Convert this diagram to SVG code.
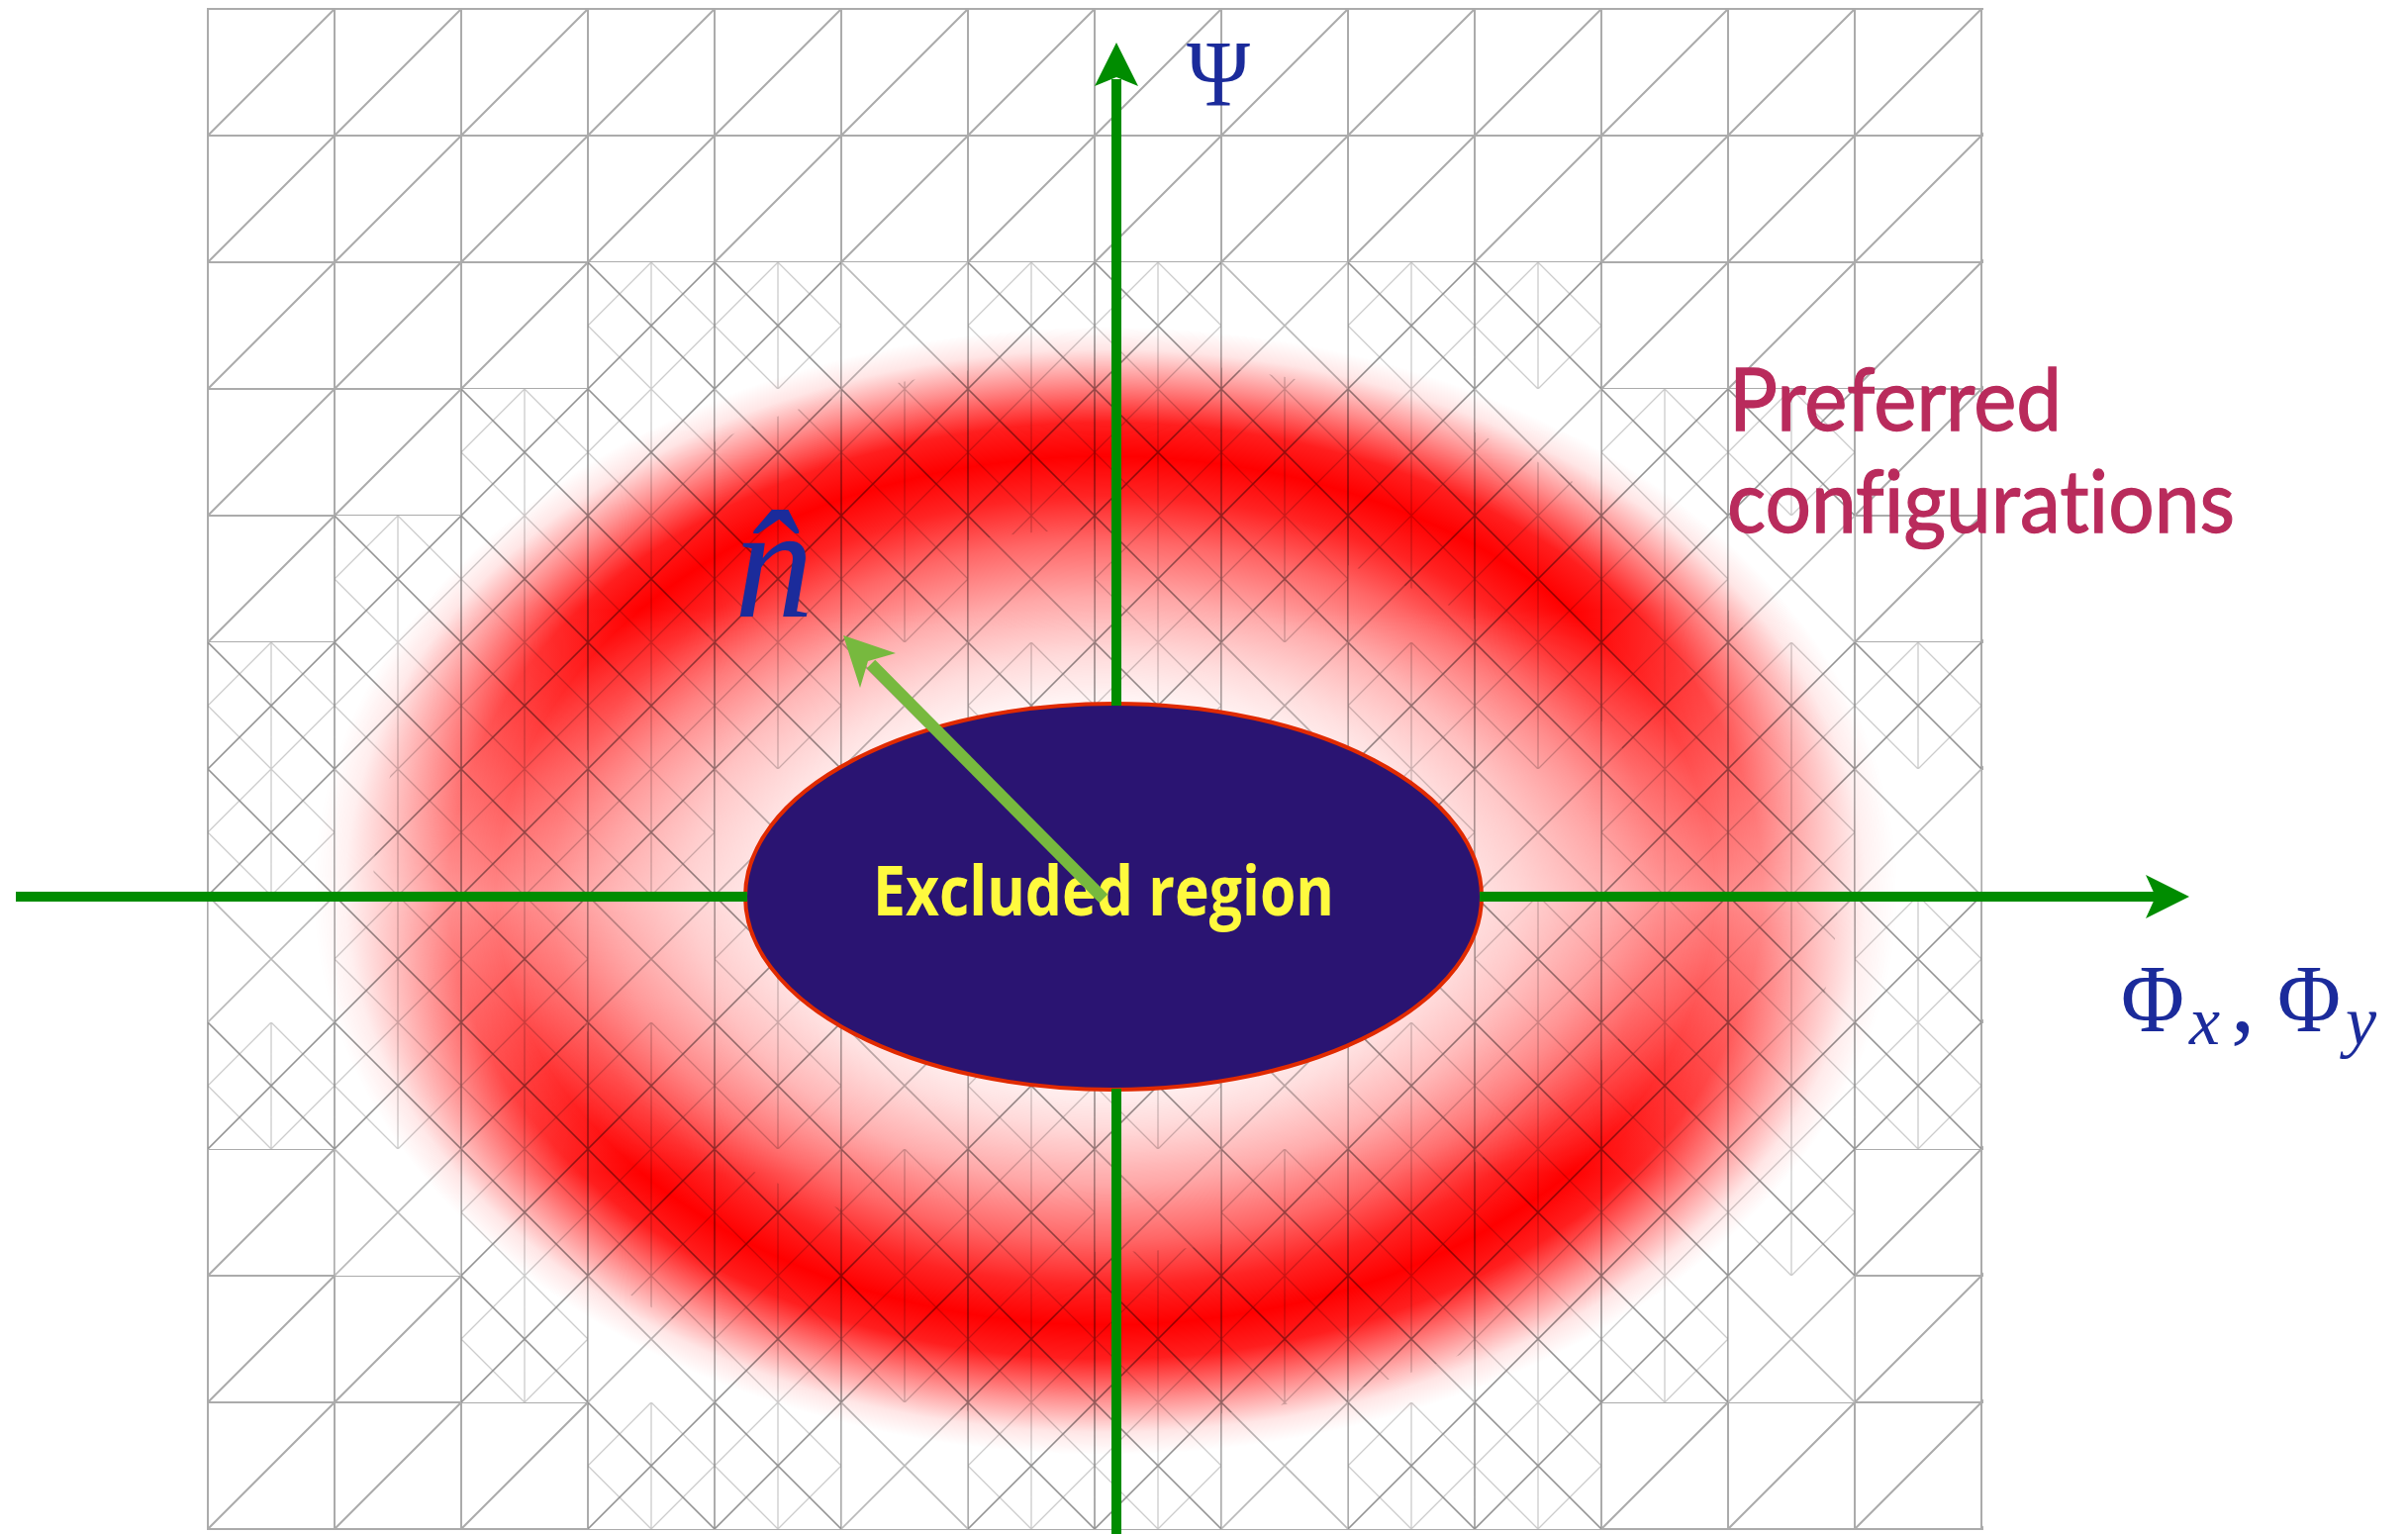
<svg xmlns="http://www.w3.org/2000/svg" width="2433" height="1550" viewBox="0 0 2433 1550">
<defs>
<style>
.math{font-family:"Liberation Serif","DejaVu Serif",serif;fill:#1b2b9b}
.mi{font-style:italic}
.pref{font-family:Lato,"Open Sans",sans-serif;fill:#b92b5c;stroke:#b92b5c;stroke-width:1.3px;font-size:88px;font-variant-ligatures:none}
.excl{font-family:"Open Sans","Noto Sans",sans-serif;font-weight:700;fill:#fffa3e;font-size:69px}
.axis{stroke:#008c00;stroke-width:10;fill:none}
.axhead{fill:#008c00}
.narrow{stroke:#77b93e;stroke-width:12;fill:none}
.nhead{fill:#77b93e}
</style>
<pattern id="p0" x="210" y="9" width="128" height="128" patternUnits="userSpaceOnUse">
<path d="M0,0H128M0,128H128M0,0V128M128,0V128M0,128L128,0" stroke="#000" stroke-opacity="0.33" stroke-width="2" fill="none"/>
</pattern>
<pattern id="pA" x="210" y="9" width="128" height="128" patternUnits="userSpaceOnUse">
<path d="M0,0V128M128,0V128M0,0L128,128M128,0L0,128" stroke="#000" stroke-opacity="0.27" stroke-width="1.6" fill="none"/>
</pattern>
<pattern id="pB" x="210" y="9" width="64" height="64" patternUnits="userSpaceOnUse">
<path d="M0,0V64M64,0V64M0,0L64,64M64,0L0,64" stroke="#000" stroke-opacity="0.2" stroke-width="1.3" fill="none"/>
</pattern>
<pattern id="checker" x="210" y="9" width="384" height="384" patternUnits="userSpaceOnUse">
<path fill="#fff" d="M0,0h128v128h-128z M256,0h128v128h-128z M128,128h256v128h-256z M0,256h256v128h-256z"/>
</pattern>
<mask id="mCoarse" maskUnits="userSpaceOnUse" x="0" y="0" width="2433" height="1550">
<rect width="2433" height="1550" fill="#fff"/>
<path d="M594,265H1618V393H1874V649H2002V1161H1874V1417H1618V1545H594V1417H466V1289H338V1161H210V649H338V521H466V393H594Z" fill="#000"/>
</mask>
<clipPath id="cFine">
<path d="M594,265H1618V393H1874V649H2002V1161H1874V1417H1618V1545H594V1417H466V1289H338V1161H210V649H338V521H466V393H594Z"/>
</clipPath>
<mask id="mFine" maskUnits="userSpaceOnUse" x="0" y="0" width="2433" height="1550">
<rect x="209" y="8" width="1795" height="1538" fill="url(#checker)"/>
<ellipse cx="1117" cy="900" rx="655" ry="450" fill="none" stroke="#fff" stroke-width="170"/>
</mask>
<radialGradient id="ringGrad">
<stop offset="0" stop-color="#ff0000" stop-opacity="0"/>
<stop offset="0.3" stop-color="#ff0000" stop-opacity="0"/>
<stop offset="0.42" stop-color="#ff0000" stop-opacity="0.16"/>
<stop offset="0.52" stop-color="#ff0000" stop-opacity="0.34"/>
<stop offset="0.62" stop-color="#ff0000" stop-opacity="0.6"/>
<stop offset="0.7" stop-color="#ff0000" stop-opacity="0.86"/>
<stop offset="0.77" stop-color="#ff0000" stop-opacity="1"/>
<stop offset="0.83" stop-color="#ff0000" stop-opacity="0.88"/>
<stop offset="0.9" stop-color="#ff0000" stop-opacity="0.45"/>
<stop offset="0.96" stop-color="#ff0000" stop-opacity="0.1"/>
<stop offset="1" stop-color="#ff0000" stop-opacity="0"/>
</radialGradient>
<linearGradient id="ringFade" gradientUnits="userSpaceOnUse" x1="0" y1="330" x2="0" y2="1470">
<stop offset="0" stop-color="#fff"/>
<stop offset="0.25" stop-color="#fff"/>
<stop offset="0.4" stop-color="#aaa"/>
<stop offset="0.5" stop-color="#7a7a7a"/>
<stop offset="0.6" stop-color="#aaa"/>
<stop offset="0.75" stop-color="#fff"/>
<stop offset="1" stop-color="#fff"/>
</linearGradient>
<mask id="mRing" maskUnits="userSpaceOnUse" x="0" y="0" width="2433" height="1550">
<rect width="2433" height="1550" fill="url(#ringFade)"/>
</mask>
</defs>

<rect width="2433" height="1550" fill="#fff"/>

<g id="ring">
<ellipse cx="1117" cy="900" rx="800" ry="570" fill="url(#ringGrad)" mask="url(#mRing)"/>
</g>

<g id="mesh">
<rect x="209" y="8" width="1795" height="1538" fill="url(#p0)" mask="url(#mCoarse)"/>
<g clip-path="url(#cFine)">
<rect x="209" y="8" width="1795" height="1538" fill="url(#pA)"/>
<rect x="209" y="8" width="1795" height="1538" fill="url(#pB)" mask="url(#mFine)"/>
</g>
</g>

<g id="excluded-region">
<ellipse cx="1125" cy="906" rx="372" ry="195" fill="#2a1472" stroke="#e02a00" stroke-width="4"/>
<text class="excl" x="882" y="925" textLength="466" lengthAdjust="spacingAndGlyphs">Excluded region</text>
</g>

<g id="connectors">
<line class="axis" x1="16" y1="906" x2="755" y2="906"/>
<line class="axis" x1="1495" y1="906" x2="2180" y2="906"/>
<polygon class="axhead" points="2212,906 2168,884 2178,906 2168,928"/>
<line class="axis" x1="1128" y1="1550" x2="1128" y2="1100"/>
<line class="axis" x1="1128" y1="713" x2="1128" y2="80"/>
<polygon class="axhead" points="1128,43 1106,87 1128,78 1150,87"/>
<line class="narrow" x1="1115" y1="908" x2="880" y2="671"/>
<polygon class="nhead" points="852,642 905,660 877,668 869,695"/>
</g>

<g id="label-psi">
<text class="math" x="1231" y="107" font-size="96" text-anchor="middle" textLength="64" lengthAdjust="spacingAndGlyphs">Ψ</text>
</g>

<g id="label-phi">
<text class="math" x="2143" y="1042" font-size="97" textLength="64" lengthAdjust="spacingAndGlyphs">Φ</text>
<text class="math mi" x="2212" y="1055" font-size="70">x</text>
<text class="math" x="2254" y="1042" font-size="97">,</text>
<text class="math" x="2301" y="1042" font-size="97" textLength="64" lengthAdjust="spacingAndGlyphs">Φ</text>
<text class="math mi" x="2370" y="1055" font-size="70">y</text>
</g>

<g id="label-nhat">
<text class="math mi" x="742" y="623" font-size="160">n̂</text>
</g>

<g id="label-preferred">
<text class="pref" x="1747" y="435" textLength="336" lengthAdjust="spacingAndGlyphs">Preferred</text>
<text class="pref" x="1745" y="538" textLength="513" lengthAdjust="spacingAndGlyphs">configurations</text>
</g>
</svg>
